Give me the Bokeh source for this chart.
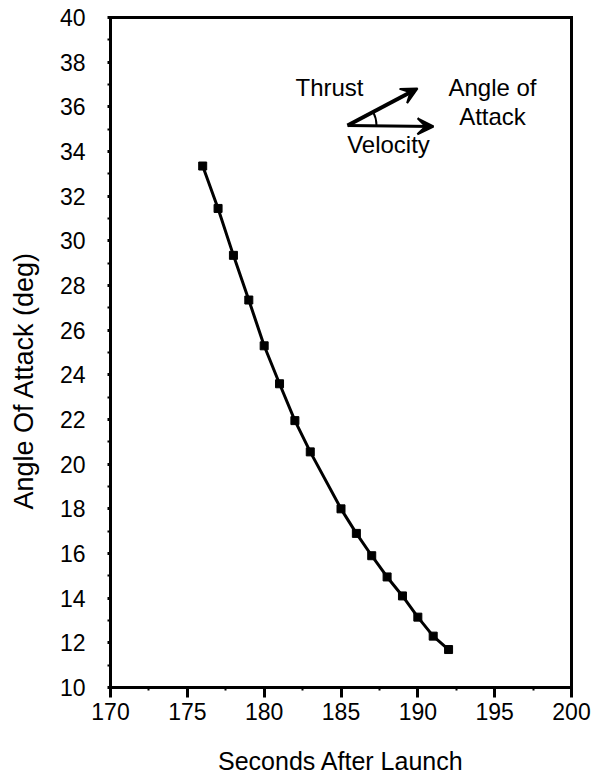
import math
from bokeh.plotting import figure
from bokeh.models import Range1d, FixedTicker, Label, Arrow, VeeHead, LinearAxis
from bokeh.embed import file_html
from bokeh.resources import INLINE

# ---- data ----
seconds = [176, 177, 178, 179, 180, 181, 182, 183, 185, 186, 187, 188, 189, 190, 191, 192]
angle_of_attack = [33.35, 31.45, 29.35, 27.35, 25.3, 23.6, 21.95, 20.55,
                   18.0, 16.9, 15.9, 14.95, 14.1, 13.15, 12.3, 11.7]

x_ticks = [170, 175, 180, 185, 190, 195, 200]
x_minor = [172.5, 177.5, 182.5, 187.5, 192.5, 197.5]
y_ticks = [10, 12, 14, 16, 18, 20, 22, 24, 26, 28, 30, 32, 34, 36, 38, 40]
y_minor = [11, 13, 15, 17, 19, 21, 23, 25, 27, 29, 31, 33, 35, 37, 39]
x_min, x_max = 170, 200
y_min, y_max = 10, 40

x_title = "Seconds After Launch"
y_title = "Angle Of Attack (deg)"

FONT = "Liberation Sans"

# ---- layout (pixels on the page) ----
W, H = 598, 775
BOX_L, BOX_R, BOX_T, BOX_B = 110, 571, 17, 687   # plot box edges
sx = (BOX_R - BOX_L) / (x_max - x_min)
sy = (BOX_B - BOX_T) / (y_max - y_min)
x_start = x_min - BOX_L / sx
x_end = x_max + (W - BOX_R) / sx
y_end = y_max + BOX_T / sy
y_start = y_min - (H - BOX_B) / sy

def dx(px):
    return x_start + px / sx

def dy(py):
    return y_end - py / sy

p = figure(width=W, height=H, output_backend="svg", toolbar_location=None,
           x_range=Range1d(x_start, x_end), y_range=Range1d(y_start, y_end),
           min_border_left=0, min_border_top=0, min_border_right=0, min_border_bottom=0)
p.background_fill_color = "white"
p.border_fill_color = "white"
p.xgrid.visible = False
p.ygrid.visible = False
p.outline_line_color = None

p.xaxis.ticker = FixedTicker(ticks=x_ticks, minor_ticks=x_minor)
p.xaxis.fixed_location = y_min
p.xaxis.bounds = (x_min, x_max)
p.yaxis.ticker = FixedTicker(ticks=y_ticks, minor_ticks=y_minor)
p.yaxis.fixed_location = x_min
p.yaxis.bounds = (y_min, y_max)
for ax in (p.xaxis, p.yaxis):
    ax.axis_line_width = 3
    ax.axis_line_color = "black"
    ax.axis_line_cap = "square"
    ax.major_tick_line_width = 3
    ax.minor_tick_line_width = 2
    ax.major_tick_in = 0
    ax.minor_tick_in = 0
    ax.major_label_text_font = FONT
    ax.major_label_text_font_size = "23px"
    ax.major_label_text_color = "black"
p.xaxis.major_tick_out = 10
p.xaxis.minor_tick_out = 3
p.xaxis.major_label_standoff = 5
p.yaxis.major_tick_out = 3
p.yaxis.minor_tick_out = 3
p.yaxis.major_label_standoff = 22

# box: top and right border lines
top_ax = LinearAxis(ticker=FixedTicker(ticks=[], minor_ticks=[]), axis_line_width=3,
                    axis_line_cap="square", major_tick_out=0, minor_tick_out=0,
                    fixed_location=y_max, bounds=(x_min, x_max))
right_ax = LinearAxis(ticker=FixedTicker(ticks=[], minor_ticks=[]), axis_line_width=3,
                      axis_line_cap="square", major_tick_out=0, minor_tick_out=0,
                      fixed_location=x_max, bounds=(y_min, y_max))
p.add_layout(top_ax, "above")
p.add_layout(right_ax, "right")

# data line and markers
p.line(seconds, angle_of_attack, line_color="black", line_width=3)
p.scatter(seconds, angle_of_attack, marker="square", size=8, color="black")

# axis titles
p.add_layout(Label(x=(x_min + x_max) / 2, y=dy(760), text=x_title, text_align="center",
                   text_baseline="alphabetic", text_font=FONT,
                   text_font_size="25px", text_color="black"))
p.add_layout(Label(x=dx(23), y=dy(380), text=y_title, text_align="center",
                   text_baseline="alphabetic", text_font=FONT, angle=math.pi / 2,
                   text_font_size="27px", text_color="black"))

# inset diagram
base_x, base_y = dx(347), dy(125)
thrust_x, thrust_y = dx(417), dy(88)
vel_x, vel_y = dx(433), dy(126)
p.add_layout(Arrow(x_start=base_x, y_start=base_y, x_end=thrust_x, y_end=thrust_y,
                   line_width=4, line_color="black",
                   end=VeeHead(size=16, fill_color="black", line_color="black", line_width=2)))
p.add_layout(Arrow(x_start=base_x, y_start=base_y, x_end=vel_x, y_end=vel_y,
                   line_width=3, line_color="black",
                   end=VeeHead(size=16, fill_color="black", line_color="black", line_width=2)))
p.arc(x=[base_x], y=[base_y], radius=29, radius_units="screen",
      start_angle=0, end_angle=0.49, line_color="black", line_width=2)

for txt, px, py, al in [("Thrust", 295, 87, "left"),
                        ("Angle of", 492, 87, "center"),
                        ("Attack", 492, 116, "center"),
                        ("Velocity", 388, 144, "center")]:
    p.add_layout(Label(x=dx(px), y=dy(py), text=txt, text_align=al, text_baseline="alphabetic",
                       text_font=FONT, text_font_size="24px", text_color="black"))

open("out.html", "w").write(file_html(p, INLINE))
